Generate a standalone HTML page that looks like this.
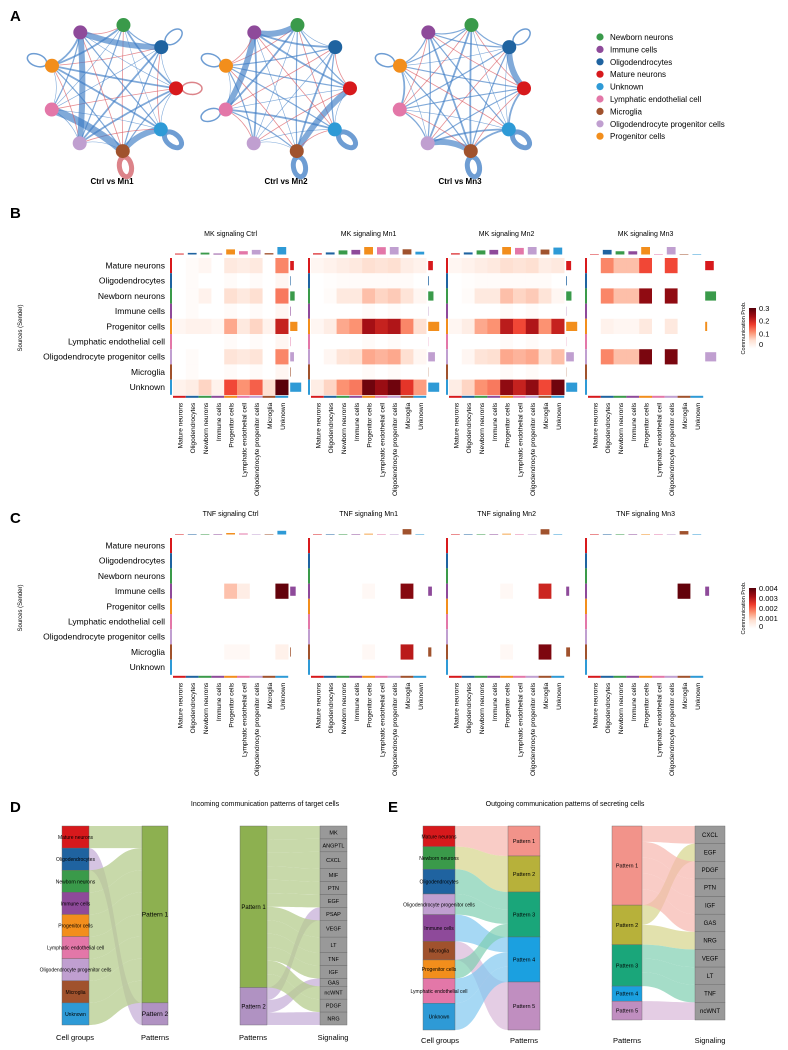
<!DOCTYPE html>
<html><head><meta charset="utf-8">
<style>
html,body{margin:0;padding:0;background:#fff;}
svg{display:block;font-family:"Liberation Sans",sans-serif;}
</style></head>
<body>
<svg id="fig" width="788" height="1050" viewBox="0 0 788 1050" xmlns="http://www.w3.org/2000/svg">
<g id="gA"></g>
<g id="gB"></g>
<g id="gC"></g>
<g id="gD"></g>
<g id="gE"></g>
</svg>
<script>
const cellTypes=["Mature neurons","Oligodendrocytes","Newborn neurons","Immune cells","Progenitor cells","Lymphatic endothelial cell","Oligodendrocyte progenitor cells","Microglia","Unknown"];
const typeColors={"Mature neurons":"#d7191c","Oligodendrocytes":"#1f63a0","Newborn neurons":"#3a9a4a","Immune cells":"#8e4a9a","Progenitor cells":"#f28e1c","Lymphatic endothelial cell":"#e377a8","Oligodendrocyte progenitor cells":"#c09fd0","Microglia":"#a0522d","Unknown":"#2e9ad6"};
const legendOrder=["Newborn neurons","Immune cells","Oligodendrocytes","Mature neurons","Unknown","Lymphatic endothelial cell","Microglia","Oligodendrocyte progenitor cells","Progenitor cells"];
const circleTitles=["Ctrl  vs  Mn1","Ctrl  vs  Mn2","Ctrl  vs  Mn3"];
const circleNodes=["Newborn neurons","Oligodendrocytes","Mature neurons","Unknown","Microglia","Oligodendrocyte progenitor cells","Lymphatic endothelial cell","Progenitor cells","Immune cells"];
const edgeWidths1=[2,3,1,4,2,1,3,2,1,5,2,3,1,2,4,1,2,3];
const edgeWidths2=[1,2,3,2,1,3,2,4,1,2,3,1,2,2,3,1,4,2];
const edgeWidths3=[2,2,1,3,3,1,2,2,4,1,2,3,2,1,2,3,1,2];
const loopNodes1=[1,2,3,4,7];
const loopNodes2=[3,4,6,7];
const loopNodes3=[1,3,4,7];

const mkTitles=["MK signaling Ctrl","MK signaling Mn1","MK signaling Mn2","MK signaling Mn3"];
const mkCtrl=[[0,.01,.02,0,.05,.04,.05,0,.15],[0,.01,0,0,.01,0,.01,0,.02],[0,.01,.03,0,.07,.05,.07,0,.16],[0,.01,0,0,.01,0,.01,0,.02],[.02,.03,.03,.02,.12,.05,.08,.03,.25],[0,0,0,0,.01,0,.01,0,.02],[0,.01,0,0,.06,.05,.06,0,.15],[0,.01,0,0,.01,0,.01,0,.02],[.03,.04,.08,.03,.2,.14,.18,.07,.35]];
const mkMn1=[[.02,.03,.04,.05,.07,.06,.07,.04,.03],[0,.005,.01,.01,.01,.01,.01,.01,0],[0,.01,.05,.05,.1,.08,.09,.06,.02],[0,0,0,0,.01,0,.01,0,0],[.02,.04,.12,.14,.28,.25,.27,.15,.07],[0,0,0,0,.01,0,.01,0,0],[0,.02,.06,.07,.12,.11,.12,.07,.02],[0,0,0,0,.01,0,.01,0,0],[.04,.08,.14,.16,.33,.29,.33,.22,.13]];
const mkMn2=[[.02,.03,.04,.05,.07,.06,.07,.04,.05],[0,.005,.01,.01,.01,.01,.01,.01,0],[0,.01,.05,.05,.1,.08,.09,.06,.02],[0,0,0,0,.01,0,.01,0,0],[.02,.04,.12,.14,.26,.2,.27,.14,.25],[0,0,0,0,.01,0,.01,0,0],[0,.02,.06,.07,.12,.11,.12,.07,.1],[0,0,0,0,.01,0,.01,0,0],[.04,.08,.14,.16,.3,.25,.3,.2,.33]];
const mkMn3=[[0,.15,.1,.1,.2,0,.2,0,0],[0,0,0,0,0,0,0,0,0],[0,.15,.1,.1,.3,0,.3,0,0],[0,0,0,0,0,0,0,0,0],[0,.03,.02,.02,.05,0,.05,0,0],[0,0,0,0,0,0,0,0,0],[0,.15,.1,.1,.32,0,.32,0,0],[0,0,0,0,0,0,0,0,0],[0,0,0,0,0,0,0,0,0]];
const tnfTitles=["TNF signaling Ctrl","TNF signaling Mn1","TNF signaling Mn2","TNF signaling Mn3"];
const zero9=()=>cellTypes.map(()=>0);
const tnfCtrl=cellTypes.map(()=>zero9());tnfCtrl[3]=[0,0,0,0,.0012,.0005,0,0,.0042];tnfCtrl[7]=[0,0,0,0,.0002,.0002,0,0,.0004];
const tnfMn1=cellTypes.map(()=>zero9());tnfMn1[3]=[0,0,0,0,.0002,0,0,.0038,0];tnfMn1[7]=[0,0,0,0,.0002,0,0,.0032,0];
const tnfMn2=cellTypes.map(()=>zero9());tnfMn2[3]=[0,0,0,0,.0002,0,0,.003,0];tnfMn2[7]=[0,0,0,0,.0002,0,0,.0039,0];
const tnfMn3=cellTypes.map(()=>zero9());tnfMn3[3]=[0,0,0,0,0,0,0,.0042,0];
const mkTicks=["0.3","0.2","0.1","0"];
const tnfTicks=["0.004","0.003","0.002","0.001","0"];

const NS="http://www.w3.org/2000/svg";
function mk(tag,attrs,parent,txt){const e=document.createElementNS(NS,tag);for(const k in attrs)e.setAttribute(k,attrs[k]);if(txt!==undefined)e.textContent=txt;parent.appendChild(e);return e;}
function reds(t){t=Math.max(0,Math.min(1,t));const st=[[255,255,255],[254,224,210],[252,146,114],[239,59,44],[165,15,21],[90,0,10]];const p=t*(st.length-1);const i=Math.min(st.length-2,Math.floor(p));const f=p-i;const c=st[i].map((v,k)=>Math.round(v+(st[i+1][k]-v)*f));return `rgb(${c})`;}

// ---------- Panel A ----------
const gA=document.getElementById('gA');
let t=mk('text',{x:10,y:21,'font-size':15,'font-weight':'bold'},gA,'A');

const centers=[[112,88],[286,88],[460,88]];
const widthsSets=[edgeWidths1,edgeWidths2,edgeWidths3];
const loopSets=[loopNodes1,loopNodes2,loopNodes3];
centers.forEach((c,ci)=>{
  const g=mk('g',{},gA);
  const R=64;const pos=circleNodes.map((n,i)=>{const a=-Math.PI/2+0.18+i*2*Math.PI/circleNodes.length;return [c[0]+R*Math.cos(a),c[1]+R*Math.sin(a)];});
  loopSets[ci].forEach(i=>{
    const a=-Math.PI/2+0.18+i*2*Math.PI/circleNodes.length;const lx=pos[i][0]+16*Math.cos(a),ly=pos[i][1]+16*Math.sin(a);
    const red=(i===4&&ci===0)||(i===2&&ci===0);
    const e=mk('ellipse',{cx:lx,cy:ly,rx:10,ry:6,transform:`rotate(${a*180/Math.PI},${lx},${ly})`,fill:'none',stroke:red?'#d05a62':'#3d7cc4','stroke-width':i===3||i===4?5:1.5,opacity:0.75},g);
    
  });
  const ws=widthsSets[ci];let k=0;
  for(let i=0;i<9;i++)for(let j=i+1;j<9;j++){
    const w=ws[k%ws.length];k++;
    const red=(i+j+ci)%4===0;
    const mx=(pos[i][0]+pos[j][0])/2,my=(pos[i][1]+pos[j][1])/2;
    const cx=mx+(c[0]-mx)*0.15,cy=my+(c[1]-my)*0.15;
    const p=mk('path',{d:`M${pos[i][0]},${pos[i][1]} Q${cx},${cy} ${pos[j][0]},${pos[j][1]}`,fill:'none',stroke:red?'#d9535b':'#3d7cc4','stroke-width':red?0.8:(w>=4?w*1.5:w*0.6),opacity:0.65},g);
    
  }
  circleNodes.forEach((n,i)=>{const cc=mk('circle',{cx:pos[i][0],cy:pos[i][1],r:7,fill:typeColors[n]},g);});
  const tt=mk('text',{x:c[0],y:184,'font-size':8,'font-weight':'bold','text-anchor':'middle'},g,circleTitles[ci]);
  
});
legendOrder.forEach((n,i)=>{
  const g=mk('g',{},gA);
  mk('circle',{cx:600,cy:37+i*12.4,r:3.6,fill:typeColors[n]},g);
  mk('text',{x:610,y:40+i*12.4,'font-size':8},g,n);
});

// ---------- Heatmaps ----------
function heatmaps(gid,label,ly,titles,datas,vmax,top,ticks,cbTitle){
  const G=document.getElementById(gid);
  const l=mk('text',{x:10,y:ly,'font-size':15,'font-weight':'bold'},G,label);
  const x0s=[173,311,449,588];const cw=12.8,rh=15.2;
  const yl=mk('text',{transform:`translate(22,${top+70}) rotate(-90)`,'font-size':6,'text-anchor':'middle'},G,'Sources (Sender)');
  cellTypes.forEach((n,r)=>{const tx=mk('text',{x:165,y:top+r*rh+10.5,'font-size':8.5,'text-anchor':'end'},G,n);});
  datas.forEach((d,p)=>{
    const g=mk('g',{},G);
    const x0=x0s[p];
    const tt=mk('text',{x:x0+cw*4.5,y:top-22,'font-size':7,'text-anchor':'middle'},g,titles[p]);
    d.forEach((row,r)=>row.forEach((v,c)=>{
      const rc=mk('rect',{x:x0+c*cw,y:top+r*rh,width:cw+0.3,height:rh+0.3,fill:reds(v/vmax)},g);
      
    }));
    cellTypes.forEach((n,r)=>{mk('rect',{x:x0-3,y:top+r*rh,width:2,height:rh,fill:typeColors[n]},g);});
    cellTypes.forEach((n,c)=>{mk('rect',{x:x0+c*cw,y:top+9*rh+1,width:cw,height:2,fill:typeColors[n]},g);
      const cs=d.reduce((s,row)=>s+row[c],0);mk('rect',{x:x0+c*cw+2,y:top-4-Math.min(7,cs/vmax*3),width:cw-4,height:Math.min(7,cs/vmax*3)+0.5,fill:typeColors[n]},g);
      const lt=mk('text',{transform:`translate(${x0+c*cw+cw/2+3},${top+9*rh+8}) rotate(-90)`,'font-size':6.5,'text-anchor':'end'},g,n);});
    cellTypes.forEach((n,r)=>{const rs=d[r].reduce((s,v)=>s+v,0);const w=Math.min(11,rs/vmax*4);if(w>0.2)mk('rect',{x:x0+9*cw+2,y:top+r*rh+3,width:w,height:rh-6,fill:typeColors[n]},g);});
  });
  const cb=mk('g',{},G);
  const cby=top+50,cbh=40;
  for(let i=0;i<40;i++)mk('rect',{x:749,y:cby+i,width:7,height:1.2,fill:reds(1-i/40)},cb);
  ticks.forEach((tk,i)=>mk('text',{x:759,y:cby+3+i*cbh/(ticks.length-1)*(ticks.length===4?0.95:1)-(i===ticks.length-1?2:0),'font-size':7.5},cb,tk));
  mk('text',{transform:`translate(745,${cby+20}) rotate(-90)`,'font-size':5.5,'text-anchor':'middle'},cb,cbTitle);
}
heatmaps('gB','B',218,mkTitles,[mkCtrl,mkMn1,mkMn2,mkMn3],0.35,258,mkTicks,'Communication Prob.');
heatmaps('gC','C',523,tnfTitles,[tnfCtrl,tnfMn1,tnfMn2,tnfMn3],0.0043,538,tnfTicks,'Communication Prob.');

// ---------- Sankey helpers ----------
function flow(g,x1,y1a,y1b,x2,y2a,y2b,color,op){
  const mx=(x1+x2)/2;
  const p=mk('path',{d:`M${x1},${y1a} C${mx},${y1a} ${mx},${y2a} ${x2},${y2a} L${x2},${y2b} C${mx},${y2b} ${mx},${y1b} ${x1},${y1b} Z`,fill:color,opacity:op},g);
  
}
function node(g,x,y,w,h,color,label,fs,name){
  const gg=mk('g',{},g);
  mk('rect',{x:x,y:y,width:w,height:h,fill:color,stroke:'#666','stroke-width':0.4},gg);
  mk('text',{x:x+w/2,y:y+h/2+2,'font-size':fs,'text-anchor':'middle'},gg,label);
}
function stack(sizes,y0,y1){const tot=sizes.reduce((a,b)=>a+b,0);let y=y0;return sizes.map(s=>{const h=s/tot*(y1-y0);const r=[y,y+h];y+=h;return r;});}

// ---------- Panel D ----------
const dCells=["Mature neurons","Oligodendrocytes","Newborn neurons","Immune cells","Progenitor cells","Lymphatic endothelial cell","Oligodendrocyte progenitor cells","Microglia","Unknown"];
const dCellPattern=[0,1,0,0,0,0,0,0,0];
const dPatternSizes=[8,1];
const dSignals=["MK","ANGPTL","CXCL","MIF","PTN","EGF","PSAP","VEGF","LT","TNF","IGF","GAS","ncWNT","PDGF","NRG"];
const dSignalSizes=[1,1,1.3,1,1,1,1,1.3,1.2,1,1,0.6,1,1,1];
const dSignalPattern=[0,0,0,0,0,0,1,0,0,0,0,1,0,0,1];
const dRightPatternSizes=[12.5,2.9];
const patColD=["#8db050","#b092c2"],flowColD=["#b5cc8e","#c7b0d8"];
const gD=document.getElementById('gD');
let lD=mk('text',{x:10,y:812,'font-size':15,'font-weight':'bold'},gD,'D');
mk('text',{x:265,y:806,'font-size':7,'text-anchor':'middle'},gD,'Incoming communication patterns of target cells');
{
 const cs=stack(dCells.map(()=>1),826,1025);const ps=stack(dPatternSizes,826,1025);
 const fill=ps.map(p=>p[0]);
 const cnt=[0,0];dCellPattern.forEach(p=>cnt[p]++);
 dCells.forEach((n,i)=>{const p=dCellPattern[i];const ph=(ps[p][1]-ps[p][0])/cnt[p];flow(gD,89,cs[i][0],cs[i][1],142,fill[p],fill[p]+ph,flowColD[p],0.75);fill[p]+=ph;});
 dCells.forEach((n,i)=>node(gD,62,cs[i][0],27,cs[i][1]-cs[i][0],typeColors[n],n,5,'cell-group-node'));
 ps.forEach((p,i)=>node(gD,142,p[0],26,p[1]-p[0],patColD[i],'Pattern '+(i+1),6.5,'pattern-node'));
 const ss=stack(dSignalSizes,826,1025);const rp=stack(dRightPatternSizes,826,1025);
 const f2=rp.map(p=>p[0]);const c2=[0,0];dSignalPattern.forEach(p=>c2[p]+=1);
 dSignals.forEach((s,i)=>{const p=dSignalPattern[i];const ph=(rp[p][1]-rp[p][0])/c2[p];flow(gD,267,f2[p],f2[p]+ph,320,ss[i][0],ss[i][1],flowColD[p],0.75);f2[p]+=ph;});
 rp.forEach((p,i)=>node(gD,240,p[0],27,p[1]-p[0],patColD[i],'Pattern '+(i+1),6,'pattern-node'));
 dSignals.forEach((s,i)=>node(gD,320,ss[i][0],27,ss[i][1]-ss[i][0],'#999',s,5.5,'signal-node'));
 [[75,'Cell groups'],[155,'Patterns'],[253,'Patterns'],[333,'Signaling']].forEach(a=>mk('text',{x:a[0],y:1040,'font-size':7.5,'text-anchor':'middle'},gD,a[1]));
}

// ---------- Panel E ----------
const eCells=["Mature neurons","Newborn neurons","Oligodendrocytes","Oligodendrocyte progenitor cells","Immune cells","Microglia","Progenitor cells","Lymphatic endothelial cell","Unknown"];
const eCellSizes=[1,1.1,1.2,1,1.3,0.9,0.9,1.2,1.3];
const eCellPattern=[0,1,2,2,3,4,2,3,3];
const ePatternSizes=[1,1.2,1.5,1.5,1.6];
const eSignals=["CXCL","EGF","PDGF","PTN","IGF","GAS","NRG","VEGF","LT","TNF","ncWNT"];
const eSignalPattern=[0,1,0,0,0,0,1,2,2,2,4];
const eRightPatternSizes=[4.2,2.1,2.2,0.8,1];
const patColE=["#f2938a","#b7b13a","#1aa67a","#1ba0e0","#c08ec0"],flowColE=["#f7b6ae","#d6d48a","#7fcfb0","#80c8ef","#d9b8d9"];
const gE=document.getElementById('gE');
let lE=mk('text',{x:388,y:812,'font-size':15,'font-weight':'bold'},gE,'E');
mk('text',{x:565,y:806,'font-size':7,'text-anchor':'middle'},gE,'Outgoing communication patterns of secreting cells');
{
 const cs=stack(eCellSizes,826,1030);const ps=stack(ePatternSizes,826,1030);
 const fill=ps.map(p=>p[0]);const tot=[0,0,0,0,0];eCellPattern.forEach((p,i)=>tot[p]+=eCellSizes[i]);
 eCells.forEach((n,i)=>{const p=eCellPattern[i];const ph=(ps[p][1]-ps[p][0])*eCellSizes[i]/tot[p];flow(gE,455,cs[i][0],cs[i][1],508,fill[p],fill[p]+ph,flowColE[p],0.7);fill[p]+=ph;});
 eCells.forEach((n,i)=>node(gE,423,cs[i][0],32,cs[i][1]-cs[i][0],typeColors[n],n,5,'cell-group-node'));
 ps.forEach((p,i)=>node(gE,508,p[0],32,p[1]-p[0],patColE[i],'Pattern '+(i+1),5.5,'pattern-node'));
 const ss=stack(eSignals.map(()=>1),826,1020);const rp=stack(eRightPatternSizes,826,1020);
 const f2=rp.map(p=>p[0]);const c2=[0,0,0,0,0];eSignalPattern.forEach(p=>c2[p]++);
 eSignals.forEach((s,i)=>{const p=eSignalPattern[i];const ph=(rp[p][1]-rp[p][0])/c2[p];flow(gE,642,f2[p],f2[p]+ph,695,ss[i][0],ss[i][1],flowColE[p],0.7);f2[p]+=ph;});
 rp.forEach((p,i)=>node(gE,612,p[0],30,p[1]-p[0],patColE[i],'Pattern '+(i+1),5.5,'pattern-node'));
 eSignals.forEach((s,i)=>node(gE,695,ss[i][0],30,ss[i][1]-ss[i][0],'#999',s,6,'signal-node'));
 [[440,'Cell groups'],[524,'Patterns'],[627,'Patterns'],[710,'Signaling']].forEach(a=>mk('text',{x:a[0],y:1043,'font-size':7.5,'text-anchor':'middle'},gE,a[1]));
}
</script>
</body></html>
